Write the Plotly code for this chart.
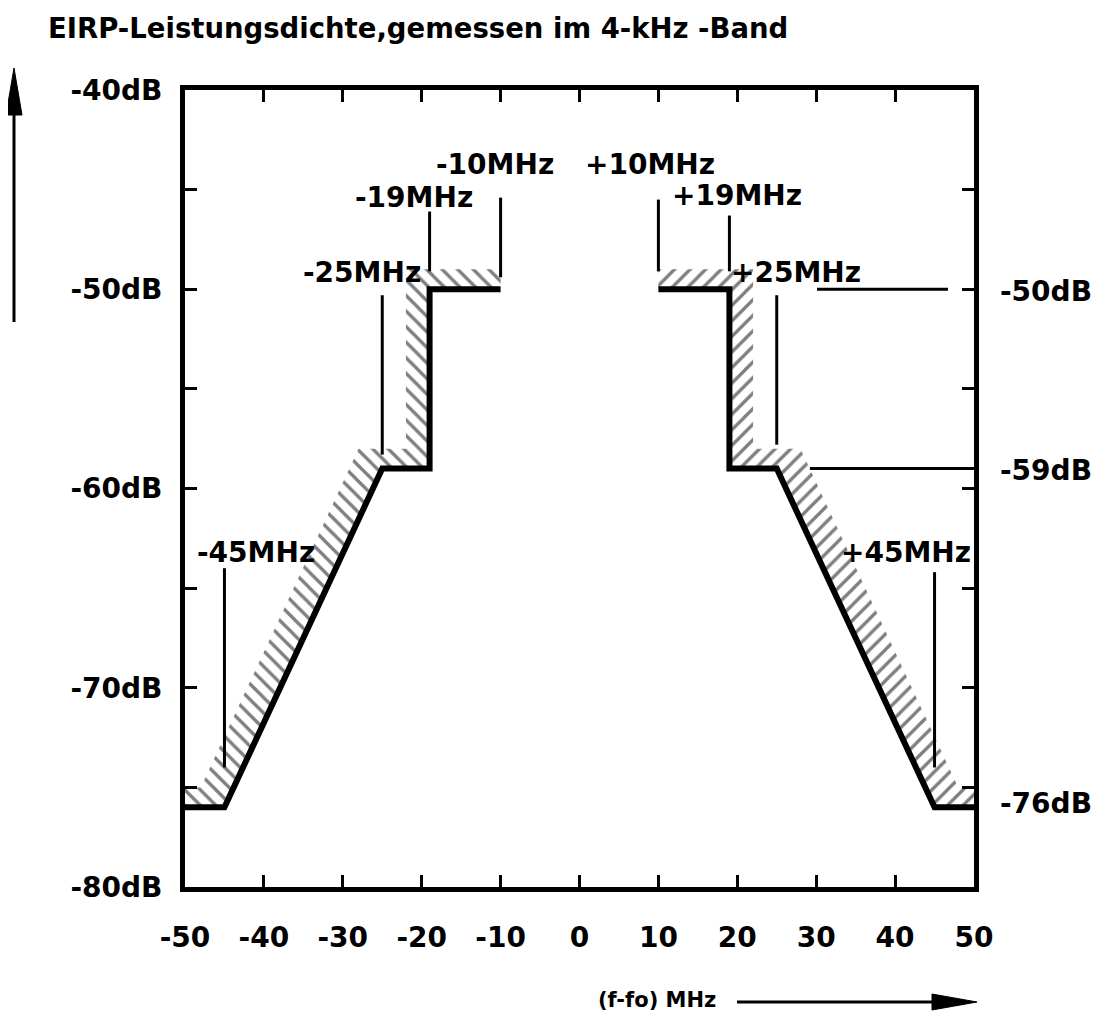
import plotly.graph_objects as go

# ---------------- data ----------------
# EIRP mask (thick line), left and right halves
mask_left_x = [-10, -19, -19, -25, -45, -50]
mask_left_y = [-50, -50, -59, -59, -76, -76]
mask_right_x = [10, 19, 19, 25, 45, 50]
mask_right_y = [-50, -50, -59, -59, -76, -76]

# upper edge of the hatched tolerance band
tol_left_x = [-10, -22, -22, -28, -48, -50]
tol_left_y = [-49, -49, -58, -58, -75, -75]
tol_right_x = [10, 22, 22, 28, 48, 50]
tol_right_y = [-49, -49, -58, -58, -75, -75]

# thin vertical marker lines at the break frequencies
marker_x = [-45, -25, -19, -10, 10, 19, 25, 45]
marker_top = [-64.0, -50.3, -46.1, -45.4, -45.5, -46.3, -50.3, -64.2]
marker_bottom = [-74.0, -58.3, -49.1, -49.4, -49.1, -49.1, -57.8, -74.0]

# marker labels
label_text = ["-45MHz", "-25MHz", "-19MHz", "-10MHz",
              "+10MHz", "+19MHz", "+25MHz", "+45MHz"]
label_x = [-41.0, -27.6, -21.0, -10.7, 8.9, 20.0, 27.5, 41.4]
label_y = [-63.2, -49.15, -45.4, -43.75, -43.75, -45.3, -49.15, -63.2]

# horizontal level lines on the right
level_y = [-50, -59]
level_x0 = [30.1, 29.2]
level_x1 = [46.7, 50.0]

# level labels on the right side
right_label_text = ["-50dB", "-59dB", "-76dB"]
right_label_y = [-50.1, -59.1, -75.8]

# axes
x_ticks = [-50, -40, -30, -20, -10, 0, 10, 20, 30, 40, 50]
x_ticktext = ["-50", "-40", "-30", "-20", "-10", "0", "10", "20", "30", "40", "50"]
y_ticks = [-80, -75, -70, -65, -60, -55, -50, -45, -40]
y_ticktext = ["-80dB", "", "-70dB", "", "-60dB", "", "-50dB", "", "-40dB"]

title_text = "EIRP-Leistungsdichte,gemessen im 4-kHz -Band"
xlabel_text = "(f-fo) MHz"

# ---------------- layout geometry (pixels) ----------------
# the page body adds an 8px offset; positions below are in window pixels
OFF = 8
W, H = 1102 - OFF, 1017 - OFF
PL, PR, PT, PB = 185, 974, 90, 887          # plot frame in window pixels
L, T = PL - OFF, PT - OFF
R, B = W - (PR - OFF), H - (PB - OFF)


def px(xp):
    return (xp - PL) / (PR - PL)


def py(yp):
    return (PB - yp) / (PB - PT)


FONT = "DejaVu Sans"

fig = go.Figure()

# hatched tolerance bands
for mx, my, tx, ty, shape in [
    (mask_left_x, mask_left_y, tol_left_x, tol_left_y, "\\"),
    (mask_right_x, mask_right_y, tol_right_x, tol_right_y, "/"),
]:
    fig.add_trace(go.Scatter(
        x=mx + tx[::-1] + [mx[0]],
        y=my + ty[::-1] + [my[0]],
        mode="lines", line=dict(width=0, color="rgba(0,0,0,0)"),
        fill="toself", fillcolor="rgba(0,0,0,0)",
        fillpattern=dict(shape=shape, size=11, solidity=0.3,
                         fgcolor="black", bgcolor="white"),
        hoverinfo="skip", showlegend=False,
    ))

# mask lines
for mx, my in [(mask_left_x, mask_left_y), (mask_right_x, mask_right_y)]:
    fig.add_trace(go.Scatter(
        x=mx, y=my, mode="lines",
        line=dict(color="black", width=6),
        showlegend=False, hoverinfo="skip",
    ))

# thin markers
mxs, mys = [], []
for x, y0, y1 in zip(marker_x, marker_top, marker_bottom):
    mxs += [x, x, None]
    mys += [y0, y1, None]
for y, x0, x1 in zip(level_y, level_x0, level_x1):
    mxs += [x0, x1, None]
    mys += [y, y, None]
fig.add_trace(go.Scatter(
    x=mxs, y=mys, mode="lines",
    line=dict(color="black", width=3),
    showlegend=False, hoverinfo="skip",
))

annotations = []
for t, x, y in zip(label_text, label_x, label_y):
    annotations.append(dict(
        x=x, y=y, xref="x", yref="y", text=t, showarrow=False,
        xanchor="center", yanchor="middle",
        font=dict(family=FONT, size=28, color="black", weight="bold"),
    ))
for t, y in zip(right_label_text, right_label_y):
    annotations.append(dict(
        x=px(998), y=y, xref="paper", yref="y", text=t, showarrow=False,
        xanchor="left", yanchor="middle",
        font=dict(family=FONT, size=28, color="black", weight="bold"),
    ))
annotations.append(dict(
    x=px(718), y=py(1000), xref="paper", yref="paper", text=xlabel_text,
    showarrow=False, xanchor="right", yanchor="middle",
    font=dict(family=FONT, size=21, color="black", weight="bold"),
))

shapes = [
    # left vertical arrow
    dict(type="line", xref="paper", yref="paper",
         x0=px(14), x1=px(14), y0=py(322), y1=py(108),
         line=dict(color="black", width=3)),
    dict(type="path", xref="paper", yref="paper",
         path=f"M {px(14)} {py(68)} L {px(6)} {py(115)} L {px(22)} {py(115)} Z",
         fillcolor="black", line=dict(color="black", width=1)),
    # bottom horizontal arrow
    dict(type="line", xref="paper", yref="paper",
         x0=px(737), x1=px(936), y0=py(1002), y1=py(1002),
         line=dict(color="black", width=3)),
    dict(type="path", xref="paper", yref="paper",
         path=f"M {px(977)} {py(1002)} L {px(932)} {py(994)} L {px(932)} {py(1010)} Z",
         fillcolor="black", line=dict(color="black", width=1)),
]

axis_common = dict(
    showgrid=False, zeroline=False, showline=True, linecolor="black",
    linewidth=5, mirror="ticks", ticks="inside", ticklen=12, tickwidth=3,
    tickcolor="black",
    tickfont=dict(family=FONT, size=28, color="black", weight="bold"),
)

fig.update_layout(
    width=W, height=H,
    margin=dict(l=L, r=R, t=T, b=B, pad=0),
    paper_bgcolor="white", plot_bgcolor="white",
    title=dict(text=title_text, x=(48 - OFF) / W, xref="container",
               xanchor="left", y=1 - (28 - OFF) / H, yref="container",
               yanchor="middle",
               font=dict(family=FONT, size=27.5, color="black", weight="bold")),
    xaxis=dict(range=[-50, 50], tickvals=x_ticks, ticktext=x_ticktext,
               ticklabelstandoff=21, **axis_common),
    yaxis=dict(range=[-80, -40], tickvals=y_ticks, ticktext=y_ticktext,
               ticklabelstandoff=12, **axis_common),
    annotations=annotations,
    shapes=shapes,
    showlegend=False,
)

fig.write_html("out.html")
